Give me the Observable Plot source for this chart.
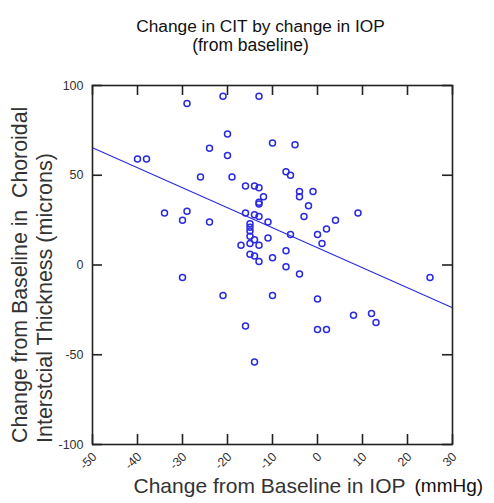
<!DOCTYPE html>
<html><head><meta charset="utf-8">
<script src="https://cdn.jsdelivr.net/npm/d3@7"></script>
<script src="https://cdn.jsdelivr.net/npm/@observablehq/plot@0.6"></script>
<style>body{margin:0;background:#fff;} svg{display:block}</style>
</head><body><div id="chart"></div>
<script>
// Change from baseline in IOP (mmHg)
const iopChange = [-40,-38,-34,-30,-29,-29,-30,-26,-24,-24,
  -21,-21,-20,-20,-19,-16,-16,-16,-14,-13,
  -13,-12,-13,-13,-14,-13,-15,-15,-15,-11,
  -15,-14,-11,-17,-15,-13,-15,-14,-13,-10,
  -14,-10,-10,-5,-7,-6,-4,-4,-1,-2,
  -3,4,9,2,0,1,-6,-7,-7,-4,
  0,8,12,13,0,2,25];
// Change from baseline in choroidal interstitial thickness (microns)
const citChange = [59,59,29,25,30,90,-7,49,65,24,
  94,-17,73,61,49,44,29,-34,44,43,
  94,38,35,34,28,27,23,21,19,24,
  16,14,15,11,12,11,6,5,2,4,
  -54,68,-17,67,52,50,41,38,41,33,
  27,25,29,20,17,12,17,8,-1,-5,
  -19,-28,-27,-32,-36,-36,-7];
// Fitted regression line, read at the x-axis limits
const fitX = [-50, 30];
const fitY = [65.3, -23.8];
const xTicks = [-50,-40,-30,-20,-10,0,10,20,30];
const yTicks = [-100,-50,0,50,100];
const titleLines = ["Change in CIT by change in IOP", "(from baseline)"];
const xLabel = "Change from Baseline in IOP";
const xUnit = "(mmHg)";
const yLabelLines = ["Change from Baseline in  Choroidal", "Interstcial Thickness (microns)"];

const points = iopChange.map((x, i) => ({x, y: citChange[i]}));
const fit = fitX.map((x, i) => ({x, y: fitY[i]}));
const blue = "#2a2ae0";
const axisColor = "#222";
const font = "Liberation Sans, Arial, sans-serif";

const chart = Plot.plot({
  width: 494, height: 503,
  marginLeft: 92, marginRight: 42, marginTop: 85, marginBottom: 59,
  style: {fontFamily: font, background: "#fff", overflow: "visible"},
  x: {domain: [-50, 30], axis: null},
  y: {domain: [-100, 100], axis: null},
  marks: [
    Plot.line(fit, {x: "x", y: "y", stroke: blue, strokeWidth: 1.1}),
    Plot.dot(points, {x: "x", y: "y", r: 3, stroke: blue, strokeWidth: 1.5, fill: "none"}),
    // inward ticks on all four sides
    Plot.tickX(xTicks, {x: d => d, insetTop: 349, stroke: axisColor, strokeWidth: 1.6}),
    Plot.tickX(xTicks, {x: d => d, insetBottom: 349, stroke: axisColor, strokeWidth: 1.6}),
    Plot.tickY(yTicks, {y: d => d, insetRight: 350, stroke: axisColor, strokeWidth: 1.6}),
    Plot.tickY(yTicks, {y: d => d, insetLeft: 350, stroke: axisColor, strokeWidth: 1.6}),
    Plot.frame({stroke: axisColor, strokeWidth: 1.6}),
    // tick labels
    Plot.text(yTicks, {y: d => d, text: d => String(d), frameAnchor: "left", textAnchor: "end", dx: -9, fontSize: 12.5, fill: "#333"}),
    Plot.text(xTicks, {x: d => d, text: d => String(d), frameAnchor: "bottom", textAnchor: "end", rotate: -45, dx: 5, dy: 13, fontSize: 12.5, fill: "#333"}),
    // titles
    Plot.text([titleLines[0]], {text: d => d, frameAnchor: "top", dx: -12, dy: -65.5, fontSize: 17.3, fill: "#111"}),
    Plot.text([titleLines[1]], {text: d => d, frameAnchor: "top", dx: -22, dy: -46.5, fontSize: 17.5, fill: "#111"}),
    // axis labels
    Plot.text([xLabel], {text: d => d, frameAnchor: "bottom", textAnchor: "start", dx: -139, dy: 48, fontSize: 21, fill: "#333"}),
    Plot.text([xUnit], {text: d => d, frameAnchor: "bottom", textAnchor: "start", dx: 142, dy: 47, fontSize: 19, fill: "#111"}),
    Plot.text([yLabelLines[0]], {text: d => d, frameAnchor: "left", textAnchor: "start", rotate: -90, dx: -72, dy: 178, fontSize: 21.3, fill: "#333"}),
    Plot.text([yLabelLines[1]], {text: d => d, frameAnchor: "left", textAnchor: "start", rotate: -90, dx: -47, dy: 178, fontSize: 21.5, fill: "#333"})
  ]
});
document.getElementById("chart").appendChild(chart);
</script>
</body></html>
